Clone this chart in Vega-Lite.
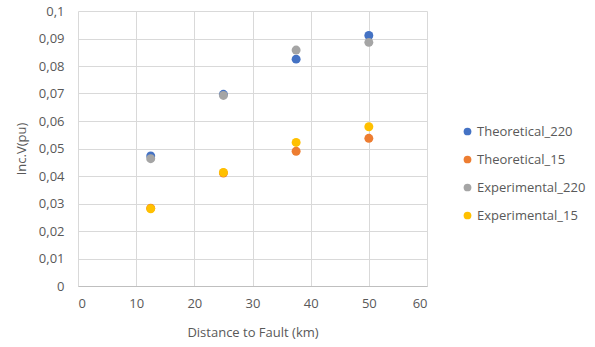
{
  "$schema": "https://vega.github.io/schema/vega-lite/v6.json",
  "width": 349,
  "height": 275,
  "autosize": {"type": "none"},
  "padding": {"left": 78, "top": 11, "right": 168, "bottom": 61},
  "background": "white",
  "config": {
    "view": {"stroke": null},
    "font": "Open Sans",
    "axis": {
      "labelFont": "Open Sans",
      "titleFont": "Open Sans",
      "labelFontSize": 13,
      "titleFontSize": 13,
      "labelColor": "#595959",
      "titleColor": "#595959",
      "titleFontWeight": "normal",
      "grid": true,
      "gridColor": "#D9D9D9",
      "gridWidth": 1,
      "ticks": false,
      "labelOverlap": false
    },
    "legend": {
      "labelFont": "Open Sans",
      "labelFontSize": 13,
      "labelColor": "#595959"
    }
  },
  "data": {
    "values": [
      {"distance": 12.5, "series": "Theoretical_220", "incV": 0.0473},
      {"distance": 25, "series": "Theoretical_220", "incV": 0.0697},
      {"distance": 37.5, "series": "Theoretical_220", "incV": 0.0825},
      {"distance": 50, "series": "Theoretical_220", "incV": 0.0911},
      {"distance": 12.5, "series": "Theoretical_15", "incV": 0.0283},
      {"distance": 25, "series": "Theoretical_15", "incV": 0.0411},
      {"distance": 37.5, "series": "Theoretical_15", "incV": 0.0490},
      {"distance": 50, "series": "Theoretical_15", "incV": 0.0537},
      {"distance": 12.5, "series": "Experimental_220", "incV": 0.0463},
      {"distance": 25, "series": "Experimental_220", "incV": 0.0693},
      {"distance": 37.5, "series": "Experimental_220", "incV": 0.0858},
      {"distance": 50, "series": "Experimental_220", "incV": 0.0886},
      {"distance": 12.5, "series": "Experimental_15", "incV": 0.0281},
      {"distance": 25, "series": "Experimental_15", "incV": 0.0413},
      {"distance": 37.5, "series": "Experimental_15", "incV": 0.0522},
      {"distance": 50, "series": "Experimental_15", "incV": 0.0579}
    ]
  },
  "mark": {"type": "point", "filled": true, "shape": "circle", "size": 80, "opacity": 1},
  "encoding": {
    "x": {
      "field": "distance",
      "type": "quantitative",
      "scale": {"domain": [0, 60], "nice": false},
      "axis": {
        "title": "Distance to Fault (km)",
        "values": [0, 10, 20, 30, 40, 50, 60],
        "domain": true,
        "domainColor": "#BFBFBF",
        "labelPadding": 11,
        "titlePadding": 16
      }
    },
    "y": {
      "field": "incV",
      "type": "quantitative",
      "scale": {"domain": [0, 0.1], "nice": false},
      "axis": {
        "title": "Inc.V(pu)",
        "values": [0, 0.01, 0.02, 0.03, 0.04, 0.05, 0.06, 0.07, 0.08, 0.09, 0.1],
        "labelExpr": "replace(format(datum.value, '.2~f'), '.', ',')",
        "domain": false,
        "labelPadding": 14,
        "titlePadding": 10
      }
    },
    "color": {
      "field": "series",
      "type": "nominal",
      "scale": {
        "domain": ["Theoretical_220", "Theoretical_15", "Experimental_220", "Experimental_15"],
        "range": ["#4472C4", "#ED7D31", "#A5A5A5", "#FFC000"]
      },
      "legend": {
        "title": null,
        "orient": "none",
        "legendX": 383,
        "legendY": 114,
        "symbolType": "circle",
        "symbolSize": 60,
        "symbolStrokeWidth": 0,
        "labelOffset": 3,
        "rowPadding": 14
      }
    }
  }
}
